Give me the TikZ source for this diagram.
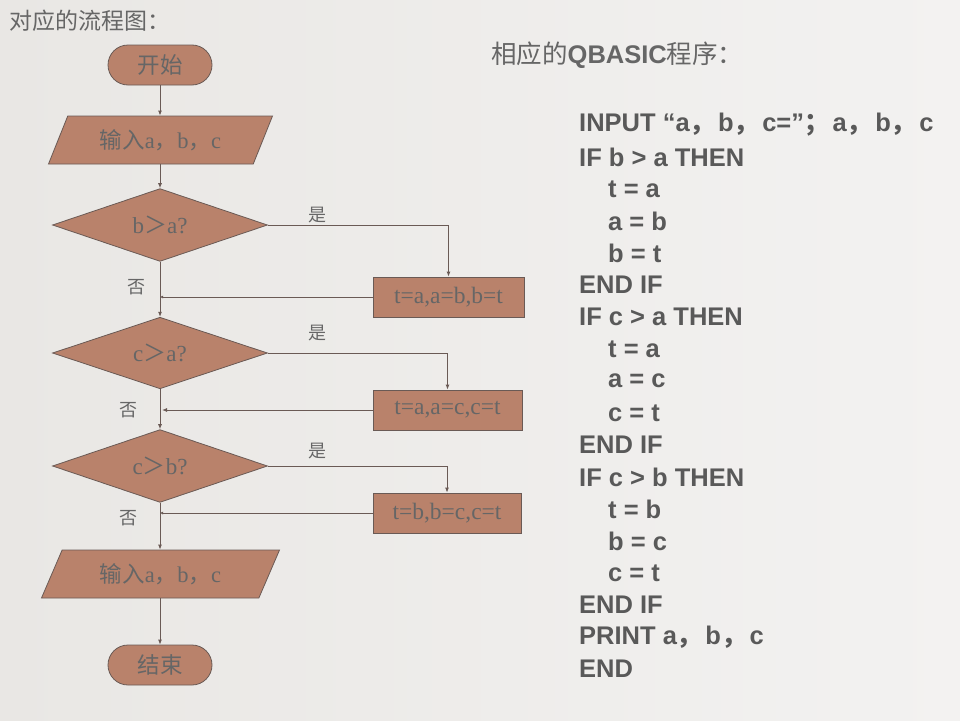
\documentclass[tikz,border=0pt]{standalone}
\usepackage{fontspec}
\setmainfont{Liberation Serif}
\setsansfont{Liberation Sans}
\newfontfamily\cjk{Noto Sans CJK SC}
\usetikzlibrary{shapes.geometric,arrows.meta}
\definecolor{boxfill}{HTML}{B9826B}
\definecolor{boxline}{HTML}{6A5A55}
\definecolor{txt}{HTML}{666666}
\definecolor{code}{HTML}{595959}
\definecolor{bgA}{HTML}{E9E7E4}
\definecolor{bgB}{HTML}{F3F2F1}
\tikzset{
  fbox/.style={draw=boxline, fill=boxfill, line width=0.8pt, text=txt, inner sep=0pt},
  termbox/.style={fbox, rectangle, rounded corners=20pt, minimum width=104pt, minimum height=40pt, font=\cjk\fontsize{22.5}{24}\selectfont},
  iobox/.style={fbox, trapezium, trapezium stretches body, minimum height=48pt, font=\fontsize{22.5}{24}\selectfont},
  decbox/.style={fbox, diamond, minimum width=215pt, minimum height=71pt, font=\fontsize{23}{25}\selectfont},
  procbox/.style={fbox, rectangle, minimum height=40pt, font=\fontsize{23.5}{25}\selectfont},
  conn/.style={draw=boxline, line width=0.9pt, -{Latex[length=5pt,width=4pt]}},
  lbl/.style={text=txt, font=\cjk\fontsize{18}{20}\selectfont, inner sep=0pt},
  codeline/.style={anchor=west, inner sep=0pt, text=code, font=\sffamily\bfseries\fontsize{25.5}{27}\selectfont},
}
\newcommand{\fw}[1]{{\cjk #1}\kern3pt}
\begin{document}
\begin{tikzpicture}[x=1pt,y=-1pt]
\shade[left color=bgA, right color=bgB] (0,0) rectangle (960,720);
\useasboundingbox (0,0) rectangle (960,720);

\node[anchor=west, inner sep=0pt, text=txt, font=\cjk\fontsize{23}{25}\selectfont] (title1) at (9,21) {对应的流程图：};
\node[anchor=west, inner sep=0pt, text=txt, font=\fontsize{25.5}{27}\selectfont] (title2) at (491,55) {{\cjk 相应的}{\sffamily\bfseries QBASIC}{\cjk 程序：}};

% flowchart
\node[termbox] (start) at (160,65) {开始};
\node[iobox, trapezium left angle=48, trapezium right angle=132, minimum width=224pt] (in) at (160.5,140) {{\cjk 输入}a{\cjk ，}b{\cjk ，}c};
\node[decbox] (d1) at (160,225) {b{\cjk ＞}a?};
\node[procbox, minimum width=151pt] (b1) at (448.5,297) {t=a,a=b,b=t};
\node[decbox] (d2) at (160,353) {c{\cjk ＞}a?};
\node[procbox, minimum width=149pt] (b2) at (447.5,410) {t=a,a=c,c=t};
\node[decbox] (d3) at (160,466) {c{\cjk ＞}b?};
\node[procbox, minimum width=148pt] (b3) at (447,513) {t=b,b=c,c=t};
\node[iobox, trapezium left angle=46, trapezium right angle=134, minimum width=238pt] (out) at (160.5,574) {{\cjk 输入}a{\cjk ，}b{\cjk ，}c};
\node[termbox] (end) at (160,665) {结束};

\coordinate (m1) at (d1.south |- b1.west);
\coordinate (m2) at (d2.south |- b2.west);
\coordinate (m3) at (d3.south |- b3.west);

\draw[conn] (start.south) -- (start.south |- in.north);
\draw[conn] (in.south -| d1.north) -- (d1.north);
\draw[conn] (d1.east) -| (b1.north);
\draw[conn] (d1.south) -- (d2.north);
\draw[conn, -{Latex[length=3pt,width=3pt]}] (b1.west) -- (m1);
\draw[conn] (d2.east) -| (b2.north);
\draw[conn] (d2.south) -- (d3.north);
\draw[conn] (b2.west) -- ([xshift=2pt]m2);
\draw[conn] (d3.east) -| (b3.north);
\draw[conn] (d3.south) -- (d3.south |- out.north);
\draw[conn, -{Latex[length=3pt,width=3pt]}] (b3.west) -- (m3);
\draw[conn] (out.south -| end.north) -- (end.north);

\node[lbl] (y1) at (317,215) {是};
\node[lbl] (y2) at (317,333) {是};
\node[lbl] (y3) at (317,451) {是};
\node[lbl] (n1) at (136,287) {否};
\node[lbl] (n2) at (128,410) {否};
\node[lbl] (n3) at (128,518) {否};

% code
\node[codeline] (c1) at (579,125) {INPUT “a\fw{，}b\fw{，}c=”\fw{；}a\fw{，}b\fw{，}c};
\node[codeline] (c2) at (579,157) {IF b > a THEN};
\node[codeline] (c3) at (608,189) {t = a};
\node[codeline] (c4) at (608,221) {a = b};
\node[codeline] (c5) at (608,253) {b = t};
\node[codeline] (c6) at (579,285) {END IF};
\node[codeline] (c7) at (579,317) {IF c > a THEN};
\node[codeline] (c8) at (608,349) {t = a};
\node[codeline] (c9) at (608,381) {a = c};
\node[codeline] (c10) at (608,413) {c = t};
\node[codeline] (c11) at (579,445) {END IF};
\node[codeline] (c12) at (579,477) {IF c > b THEN};
\node[codeline] (c13) at (608,509) {t = b};
\node[codeline] (c14) at (608,541) {b = c};
\node[codeline] (c15) at (608,573) {c = t};
\node[codeline] (c16) at (579,605) {END IF};
\node[codeline] (c17) at (579,637) {PRINT a\fw{，}b\fw{，}c};
\node[codeline] (c18) at (579,669) {END};
\end{tikzpicture}
\end{document}
